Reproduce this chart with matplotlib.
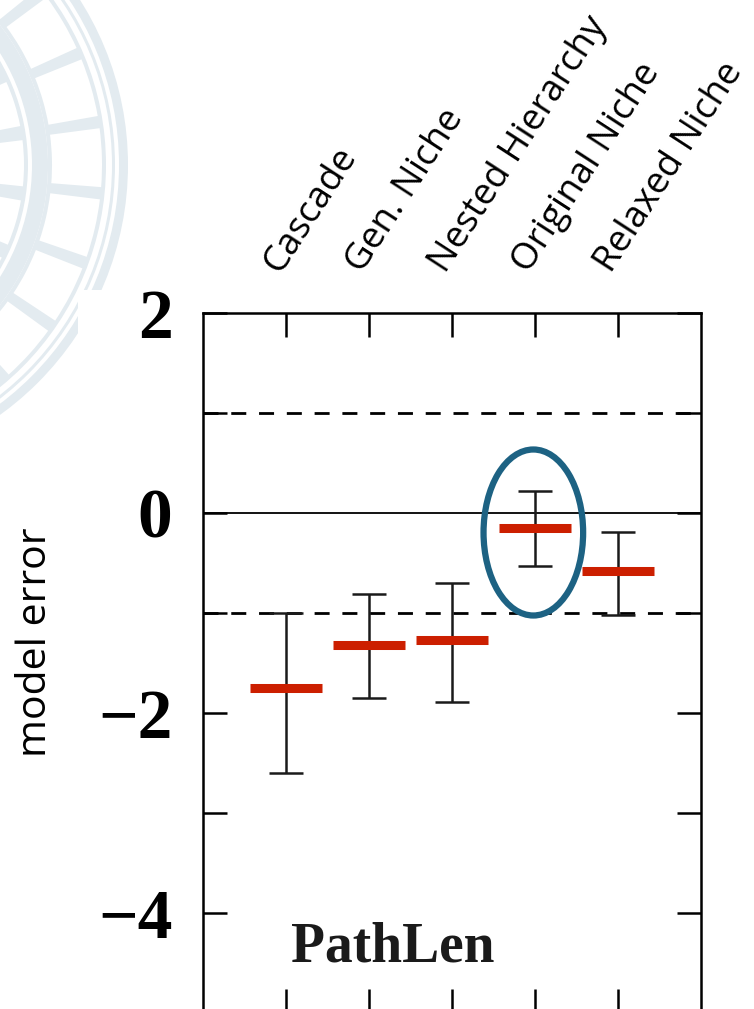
import numpy as np
import matplotlib
matplotlib.use("Agg")
import matplotlib.pyplot as plt
import matplotlib.transforms as mtransforms
from matplotlib.patches import Ellipse, Wedge, Rectangle

# model error summary for path length
models = ["Cascade", "Gen. Niche", "Nested Hierarchy", "Original Niche", "Relaxed Niche"]
mean_err = [-1.75, -1.32, -1.27, -0.15, -0.58]
err_upper = [-1.00, -0.81, -0.70, 0.22, -0.19]
err_lower = [-2.60, -1.85, -1.89, -0.53, -1.02]
y_ticks = [-5, -4, -3, -2, -1, 0, 1, 2]
y_ticklabels = ["", "\u22124", "", "\u22122", "", "0", "", "2"]

W, H = 754, 1009
fig = plt.figure(figsize=(W / 100, H / 100), dpi=100)
fig.patch.set_facecolor("white")

# faint seal in the upper left corner, pixel coordinates
bg = fig.add_axes([0, 0, 1, 1])
bg.set_xlim(0, W)
bg.set_ylim(H, 0)
bg.axis("off")
seal = "#e3ebf0"
cx, cy = -180, 165
bg.add_patch(Wedge((cx, cy), 308, -90, 90, width=9, color=seal, lw=0))
bg.add_patch(Wedge((cx, cy), 295, -90, 90, width=3, color=seal, lw=0))
bg.add_patch(Wedge((cx, cy), 286, -90, 90, width=58, color=seal, lw=0))
bg.add_patch(Wedge((cx, cy), 228, -90, 90, width=16, color=seal, lw=0))
bg.add_patch(Wedge((cx, cy), 208, -90, 90, width=50, color=seal, lw=0))
for a in np.arange(-80, 80, 14.5):
    bg.add_patch(Wedge((cx, cy), 282, a, a + 12, width=50, color="white", lw=0))
for a in np.arange(-75, 80, 17):
    bg.add_patch(Wedge((cx, cy), 204, a, a + 13, width=42, color="white", lw=0))
bg.add_patch(Rectangle((78, 290), W, H, color="white", lw=0))

# main panel
ax = fig.add_axes([203 / W, (H - 1013) / H, 498 / W, 700 / H])
x = np.arange(1, len(models) + 1)
ax.set_xlim(0, 6)
ax.set_ylim(-5, 2)

ax.axhline(0, color="black", lw=1.3, zorder=1)
for lvl in (1, -1):
    ax.axhline(lvl, color="black", lw=2, linestyle=(0, (5.4, 4.6)), zorder=1)

mean = np.array(mean_err)
yerr = [mean - np.array(err_lower), np.array(err_upper) - mean]
ax.errorbar(x, mean, yerr=yerr, fmt="none", ecolor="#1a1a1a", elinewidth=1.8,
            capsize=12, capthick=1.8, zorder=2)
ax.hlines(mean, x - 0.43, x + 0.43, color="#cc1f00", lw=6.5, zorder=3)

ax.add_patch(Ellipse((3.98, -0.195), 1.2, 1.66, fill=False,
                     edgecolor="#1d6283", lw=4.5, zorder=4))

ax.set_xticks(x)
ax.set_xticklabels([])
ax.set_yticks(y_ticks)
ax.set_yticklabels(y_ticklabels, fontfamily="Liberation Serif",
                   fontweight="bold", fontsize=50)
ax.tick_params(axis="both", direction="in", length=17, width=1.8,
               top=True, right=True, color="black")
ax.tick_params(axis="y", pad=22)
for s in ax.spines.values():
    s.set_linewidth(1.8)

ax.text(2.29, -4.48, "PathLen", fontfamily="Liberation Serif", fontweight="bold",
        fontsize=40, ha="center", va="baseline", color="#1a1a1a")

# rotated model names above the panel
trans = mtransforms.blended_transform_factory(ax.transData, ax.transAxes)
for xi, name in zip(x, models):
    ax.text(xi - 0.08, 1.055, name, transform=trans, rotation=57,
            rotation_mode="anchor", ha="left", va="baseline",
            fontfamily="Open Sans", fontsize=26.5, color="black", clip_on=False)

fig.text(36 / W, 1 - 642 / H, "model error", rotation=90, ha="center", va="center",
         fontfamily="Open Sans", fontsize=29.5, color="black")

fig.savefig("out.png", dpi=100)
